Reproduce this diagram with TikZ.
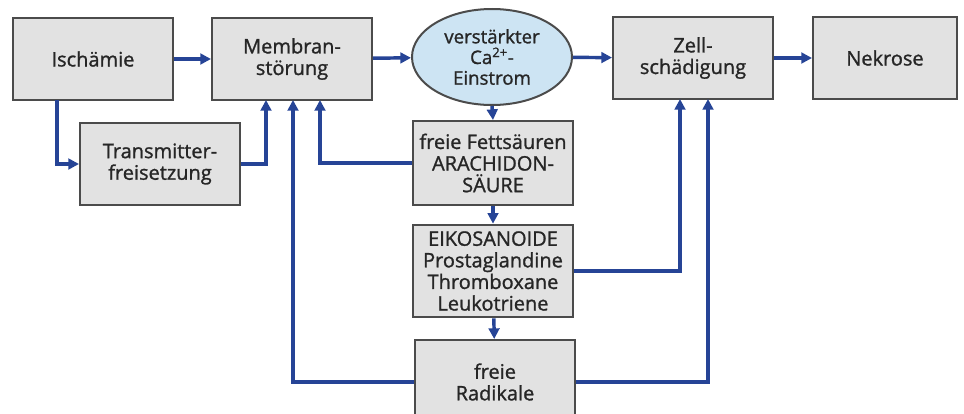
\documentclass[tikz,border=0pt]{standalone}
\usepackage{fontspec}
\setmainfont{Open Sans}[FakeBold=1.2]
\usetikzlibrary{arrows.meta,shapes.geometric}
\definecolor{pfeil}{RGB}{38,68,150}
\definecolor{kasten}{RGB}{226,226,226}
\definecolor{rand}{RGB}{75,75,75}
\definecolor{blase}{RGB}{205,228,243}

\begin{document}
\begin{tikzpicture}[x=0.75pt,y=-0.75pt,
  box/.style={draw=rand,line width=1.5pt,fill=kasten,minimum width=120pt,
    minimum height=61.5pt,align=center,text=black!85,
    font=\fontsize{15}{16.2}\selectfont},
  arr/.style={draw=pfeil,line width=2.6pt,-{Triangle[length=8pt,width=8pt]}}]
\useasboundingbox (0,0) rectangle (964,414);
\node [box] (isch) at (93,59) {Ischämie};
\node [box] (mem) at (292,59) {Membran-\\störung};
\node [ellipse,draw=rand,line width=1.5pt,fill=blase,minimum width=120pt,
  minimum height=72pt,inner sep=0pt,align=center,text=black!85,
  font=\fontsize{14}{15.5}\selectfont] (ca) at (492,57)
  {verstärkter\\Ca\textsuperscript{2+}-\\Einstrom};
\node [box] (zell) at (693,58) {Zell-\\schädigung};
\node [box,minimum width=108pt] (nek) at (885,58) {Nekrose};
\node [box] (trans) at (160,164) {Transmitter-\\freisetzung};
\node [box,minimum height=63pt] (fett) at (493,163)
  {freie Fettsäuren\\ARACHIDON-\\SÄURE};
\node [box,minimum height=69.5pt] (eiko) at (493,271)
  {EIKOSANOIDE\\Prostaglandine\\Thromboxane\\Leukotriene};
\node [box,minimum height=63pt] (rad) at (495,382) {freie\\Radikale};
% Anschlusspunkte unten an den Kaesten
\coordinate (i1) at (57,100);
\coordinate (m1) at (266,100);
\coordinate (m2) at (293,100);
\coordinate (m3) at (320,100);
\coordinate (z1) at (680,99);
\coordinate (z2) at (708,99);
\draw [arr] (isch) -- (mem);
\draw [arr] (mem) -- (ca);
\draw [arr] (ca) -- (zell);
\draw [arr] (zell) -- (nek);
\draw [arr] (i1) |- (trans.west);
\draw [arr] (trans.east) -| (m1);
\draw [arr] (rad.west) -| (m2);
\draw [arr] (fett.west) -| (m3);
\draw [arr] (ca.south) -- (fett.north);
\draw [arr] (fett) -- (eiko);
\draw [arr] (eiko) -- (rad);
\draw [arr] (eiko.east) -| (z1);
\draw [arr] (rad.east) -| (z2);
\end{tikzpicture}
\end{document}
